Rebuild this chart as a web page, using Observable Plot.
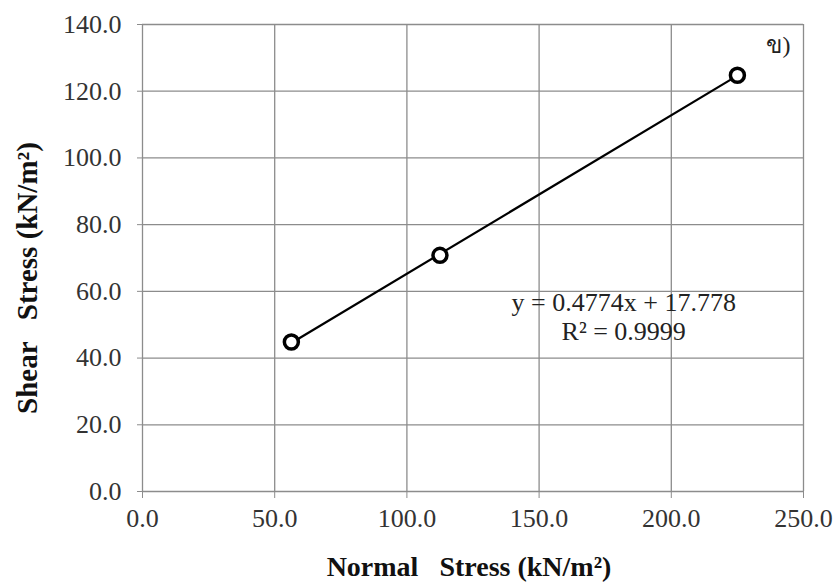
<!DOCTYPE html>
<html>
<head>
<meta charset="utf-8">
<script src="https://cdn.jsdelivr.net/npm/d3@7"></script>
<script src="https://cdn.jsdelivr.net/npm/@observablehq/plot@0.6"></script>
<style>
  html, body { margin: 0; padding: 0; background: #fff; }
  svg { display: block; }
  svg text { font-family: "Liberation Serif", "Times New Roman", Times, serif !important; white-space: pre; }
</style>
</head>
<body>
<div id="chart"></div>
<script>
const normalStress = [56.3, 112.5, 225.0];
const shearStress = [44.8, 70.8, 124.8];
const xTicks = [0, 50, 100, 150, 200, 250];
const yTicks = [0, 20, 40, 60, 80, 100, 120, 140];
const equationLines = ["y = 0.4774x + 17.778", "R² = 0.9999"];
const panelLabel = "ข)";

const data = normalStress.map((x, i) => ({x, y: shearStress[i]}));
const serif = "'Liberation Serif', 'Times New Roman', serif";

const chart = Plot.plot({
  width: 837,
  height: 583,
  marginLeft: 142,
  marginRight: 34,
  marginTop: 24,
  marginBottom: 92,
  style: {fontFamily: serif, fontSize: "26px", color: "#222", background: "#fff"},
  x: {domain: [0, 250], ticks: xTicks, tickFormat: d => d.toFixed(1), label: null},
  y: {domain: [0, 140], ticks: yTicks, tickFormat: d => d.toFixed(1), label: null},
  marks: [
    Plot.gridX(xTicks, {stroke: "#8c8c8c", strokeOpacity: 1, strokeWidth: 1.3}),
    Plot.gridY(yTicks, {stroke: "#8c8c8c", strokeOpacity: 1, strokeWidth: 1.3}),
    Plot.axisX({ticks: xTicks, tickFormat: d => d.toFixed(1), tickSize: 7, tickPadding: 10, stroke: "#8c8c8c", fontSize: 26, fill: "#333"}),
    Plot.axisY({ticks: yTicks, tickFormat: d => d.toFixed(1), tickSize: 5, tickPadding: 16, stroke: "#8c8c8c", fontSize: 26, fill: "#333"}),
    Plot.linearRegressionY(data, {x: "x", y: "y", ci: 0, stroke: "#000", strokeWidth: 2.2}),
    Plot.dot(data, {x: "x", y: "y", r: 7, stroke: "#000", strokeWidth: 3.5, fill: "#fff"}),
    Plot.text([equationLines[0]], {x: 182, y: 56.7, text: d => d, fontSize: 26, fill: "#222"}),
    Plot.text([equationLines[1]], {x: 182, y: 48.0, text: d => d, fontSize: 26, fill: "#222"}),
    Plot.text([panelLabel], {x: 240.5, y: 133.7, text: d => d, fontSize: 24, fill: "#222"}),
    Plot.text(["Normal   Stress (kN/m²)"], {frameAnchor: "bottom", textAnchor: "middle", lineAnchor: "middle", dx: -4, dy: 76, text: d => d, fontSize: 28, fontWeight: "bold", fill: "#111"}),
    Plot.text(["Shear   Stress (kN/m²)"], {frameAnchor: "left", textAnchor: "middle", lineAnchor: "middle", dx: -115, dy: 20, rotate: -90, text: d => d, fontSize: 29, fontWeight: "bold", fill: "#111"})
  ]
});
chart.querySelectorAll("text").forEach(t => { t.style.whiteSpace = "pre"; t.setAttribute("font-family", serif); });
document.getElementById("chart").appendChild(chart);
</script>
</body>
</html>
